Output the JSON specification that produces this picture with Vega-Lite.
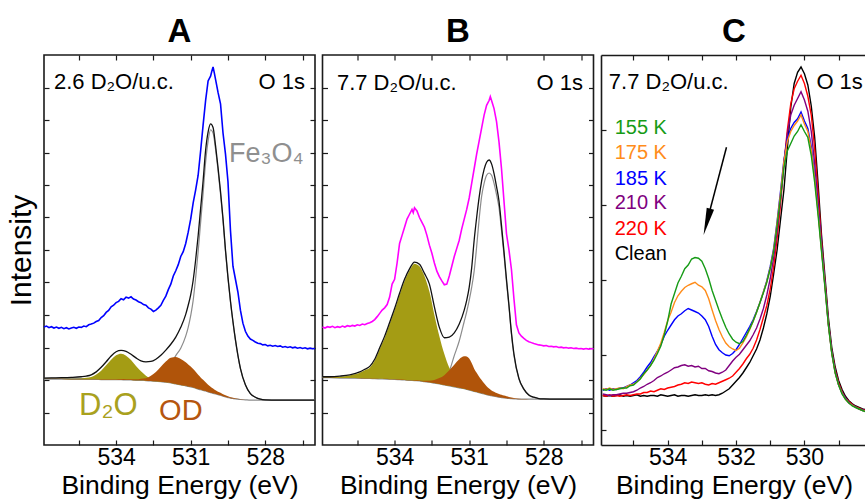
{
"$schema": "https://vega.github.io/schema/vega-lite/v6.json",
"background": "white",
"padding": {"left": 5, "top": 15, "right": 0, "bottom": 0},
"config": {
  "font": "Liberation Sans",
  "view": {"stroke": "#1a1a1a", "strokeWidth": 1.6},
  "axis": {"domain": false, "grid": false, "tickSize": -5, "tickColor": "#1a1a1a", "tickWidth": 1.2, "labelFontSize": 23, "labelColor": "#000000", "labelFont": "Liberation Sans", "titleFont": "Liberation Sans", "titleFontWeight": "normal", "titleColor": "#000000", "labelOverlap": false, "labelFlush": false},
  "title": {"font": "Liberation Sans", "fontSize": 33, "fontWeight": "bold", "color": "#000000", "baseline": "alphabetic", "anchor": "middle"},
  "text": {"font": "Liberation Sans"}
},
"datasets": {
  "A": [
    {"e":536.9,"bg":2.03,"d2o":2.035,"od":2.034,"fe":2.05,"fit":2.06},
    {"e":536.6,"bg":2.03,"d2o":2.036,"od":2.035,"fe":2.05,"fit":2.065},
    {"e":536.2,"bg":2.03,"d2o":2.038,"od":2.036,"fe":2.05,"fit":2.07},
    {"e":535.8,"bg":2.02,"d2o":2.035,"od":2.027,"fe":2.045,"fit":2.08},
    {"e":535.4,"bg":2.02,"d2o":2.05,"od":2.028,"fe":2.045,"fit":2.1},
    {"e":535.2,"bg":2.02,"d2o":2.07,"od":2.029,"fe":2.045,"fit":2.12},
    {"e":535.0,"bg":2.02,"d2o":2.094,"od":2.03,"fe":2.04,"fit":2.16},
    {"e":534.8,"bg":2.02,"d2o":2.173,"od":2.03,"fe":2.04,"fit":2.25},
    {"e":534.6,"bg":2.01,"d2o":2.288,"od":2.021,"fe":2.035,"fit":2.39},
    {"e":534.4,"bg":2.01,"d2o":2.452,"od":2.022,"fe":2.035,"fit":2.56},
    {"e":534.2,"bg":2.01,"d2o":2.624,"od":2.023,"fe":2.035,"fit":2.74},
    {"e":534.0,"bg":2.01,"d2o":2.759,"od":2.025,"fe":2.035,"fit":2.87},
    {"e":533.8,"bg":2.01,"d2o":2.81,"od":2.027,"fe":2.035,"fit":2.91},
    {"e":533.6,"bg":2.0,"d2o":2.749,"od":2.02,"fe":2.03,"fit":2.88},
    {"e":533.4,"bg":2.0,"d2o":2.614,"od":2.025,"fe":2.03,"fit":2.79},
    {"e":533.2,"bg":1.99,"d2o":2.432,"od":2.02,"fe":2.025,"fit":2.68},
    {"e":533.0,"bg":1.99,"d2o":2.268,"od":2.04,"fe":2.025,"fit":2.59},
    {"e":532.8,"bg":1.98,"d2o":2.133,"od":2.057,"fe":2.025,"fit":2.56},
    {"e":532.6,"bg":1.97,"d2o":2.044,"od":2.129,"fe":2.05,"fit":2.57},
    {"e":532.4,"bg":1.96,"d2o":2.01,"od":2.248,"fe":2.1,"fit":2.64},
    {"e":532.2,"bg":1.95,"d2o":1.98,"od":2.408,"fe":2.18,"fit":2.76},
    {"e":532.0,"bg":1.93,"d2o":1.95,"od":2.567,"fe":2.3,"fit":2.92},
    {"e":531.8,"bg":1.91,"d2o":1.925,"od":2.687,"fe":2.5,"fit":3.1},
    {"e":531.6,"bg":1.88,"d2o":1.892,"od":2.71,"fe":2.75,"fit":3.32},
    {"e":531.4,"bg":1.85,"d2o":1.86,"od":2.65,"fe":2.98,"fit":3.62},
    {"e":531.2,"bg":1.82,"d2o":1.828,"od":2.548,"fe":3.35,"fit":4.02},
    {"e":531.1,"bg":1.8,"d2o":1.807,"od":2.48,"fe":3.62,"fit":4.3},
    {"e":531.0,"bg":1.79,"d2o":1.796,"od":2.413,"fe":3.98,"fit":4.62},
    {"e":530.9,"bg":1.77,"d2o":1.775,"od":2.335,"fe":4.45,"fit":5.07},
    {"e":530.8,"bg":1.75,"d2o":1.754,"od":2.253,"fe":5.15,"fit":5.7},
    {"e":530.7,"bg":1.72,"d2o":1.723,"od":2.16,"fe":5.95,"fit":6.44},
    {"e":530.6,"bg":1.7,"d2o":1.702,"od":2.08,"fe":6.85,"fit":7.28},
    {"e":530.5,"bg":1.68,"d2o":1.681,"od":2.005,"fe":7.75,"fit":8.13},
    {"e":530.4,"bg":1.66,"d2o":1.661,"od":1.93,"fe":8.7,"fit":9.07},
    {"e":530.3,"bg":1.63,"d2o":1.63,"od":1.855,"fe":9.35,"fit":9.63},
    {"e":530.2,"bg":1.61,"d2o":1.61,"od":1.79,"fe":9.7,"fit":9.88},
    {"e":530.1,"bg":1.59,"d2o":1.59,"od":1.735,"fe":9.6,"fit":9.77},
    {"e":530.0,"bg":1.57,"d2o":1.57,"od":1.682,"fe":9.1,"fit":9.21},
    {"e":529.9,"bg":1.55,"d2o":1.55,"od":1.638,"fe":8.45,"fit":8.54},
    {"e":529.8,"bg":1.53,"d2o":1.53,"od":1.61,"fe":7.72,"fit":7.8},
    {"e":529.7,"bg":1.5,"d2o":1.5,"od":1.565,"fe":6.9,"fit":6.97},
    {"e":529.6,"bg":1.48,"d2o":1.48,"od":1.53,"fe":5.95,"fit":6.0},
    {"e":529.5,"bg":1.46,"d2o":1.46,"od":1.5,"fe":5.12,"fit":5.16},
    {"e":529.4,"bg":1.44,"d2o":1.44,"od":1.47,"fe":4.4,"fit":4.43},
    {"e":529.3,"bg":1.43,"d2o":1.43,"od":1.452,"fe":3.78,"fit":3.8},
    {"e":529.2,"bg":1.42,"d2o":1.42,"od":1.436,"fe":3.22,"fit":3.24},
    {"e":529.0,"bg":1.4,"d2o":1.4,"od":1.408,"fe":2.35,"fit":2.36},
    {"e":528.8,"bg":1.39,"d2o":1.39,"od":1.393,"fe":1.85,"fit":1.853},
    {"e":528.6,"bg":1.38,"d2o":1.38,"od":1.38,"fe":1.58,"fit":1.58},
    {"e":528.4,"bg":1.38,"d2o":1.38,"od":1.38,"fe":1.47,"fit":1.47},
    {"e":528.2,"bg":1.38,"d2o":1.38,"od":1.38,"fe":1.41,"fit":1.41},
    {"e":528.0,"bg":1.38,"d2o":1.38,"od":1.38,"fe":1.39,"fit":1.39},
    {"e":527.5,"bg":1.38,"d2o":1.38,"od":1.38,"fe":1.38,"fit":1.38},
    {"e":527.0,"bg":1.38,"d2o":1.38,"od":1.38,"fe":1.38,"fit":1.38},
    {"e":526.5,"bg":1.38,"d2o":1.38,"od":1.38,"fe":1.38,"fit":1.38},
    {"e":526.0,"bg":1.38,"d2o":1.38,"od":1.38,"fe":1.38,"fit":1.38}
  ],
  "Aexp": [
    {"e":536.9,"v":3.63},{"e":536.8,"v":3.66},{"e":536.7,"v":3.61},{"e":536.6,"v":3.64},{"e":536.5,"v":3.6},{"e":536.4,"v":3.63},{"e":536.3,"v":3.59},{"e":536.2,"v":3.62},{"e":536.1,"v":3.58},{"e":536.0,"v":3.61},
    {"e":535.9,"v":3.57},{"e":535.8,"v":3.6},{"e":535.7,"v":3.62},{"e":535.6,"v":3.59},{"e":535.5,"v":3.63},{"e":535.4,"v":3.62},{"e":535.3,"v":3.66},{"e":535.2,"v":3.64},{"e":535.1,"v":3.7},{"e":535.0,"v":3.72},
    {"e":534.9,"v":3.75},{"e":534.8,"v":3.8},{"e":534.7,"v":3.83},{"e":534.6,"v":3.92},{"e":534.5,"v":3.98},{"e":534.4,"v":4.08},{"e":534.3,"v":4.14},{"e":534.2,"v":4.25},{"e":534.1,"v":4.3},{"e":534.0,"v":4.38},
    {"e":533.9,"v":4.42},{"e":533.8,"v":4.5},{"e":533.7,"v":4.47},{"e":533.6,"v":4.55},{"e":533.5,"v":4.52},{"e":533.4,"v":4.56},{"e":533.3,"v":4.49},{"e":533.2,"v":4.46},{"e":533.1,"v":4.41},{"e":533.0,"v":4.38},
    {"e":532.9,"v":4.32},{"e":532.8,"v":4.3},{"e":532.7,"v":4.22},{"e":532.6,"v":4.18},{"e":532.5,"v":4.11},{"e":532.4,"v":4.15},{"e":532.3,"v":4.22},{"e":532.2,"v":4.3},{"e":532.1,"v":4.45},{"e":532.0,"v":4.58},
    {"e":531.9,"v":4.78},{"e":531.8,"v":4.95},{"e":531.7,"v":5.2},{"e":531.6,"v":5.36},{"e":531.5,"v":5.55},{"e":531.4,"v":5.8},{"e":531.3,"v":5.95},{"e":531.2,"v":6.2},{"e":531.1,"v":6.55},{"e":531.0,"v":6.95},
    {"e":530.9,"v":7.45},{"e":530.8,"v":7.85},{"e":530.7,"v":8.3},{"e":530.6,"v":9.05},{"e":530.5,"v":9.85},{"e":530.4,"v":10.6},{"e":530.3,"v":11.2},{"e":530.2,"v":11.35},{"e":530.15,"v":11.5},{"e":530.1,"v":11.63},{"e":530.05,"v":11.45},{"e":530.0,"v":11.25},
    {"e":529.9,"v":10.85},{"e":529.8,"v":10.5},{"e":529.7,"v":9.6},{"e":529.6,"v":8.95},{"e":529.5,"v":8.1},{"e":529.4,"v":6.6},{"e":529.3,"v":5.5},{"e":529.2,"v":5.1},{"e":529.1,"v":4.7},{"e":529.0,"v":4.15},
    {"e":528.9,"v":3.75},{"e":528.8,"v":3.5},{"e":528.7,"v":3.35},{"e":528.6,"v":3.26},{"e":528.5,"v":3.22},{"e":528.4,"v":3.17},{"e":528.3,"v":3.13},{"e":528.2,"v":3.12},{"e":528.1,"v":3.08},{"e":528.0,"v":3.09},
    {"e":527.9,"v":3.05},{"e":527.8,"v":3.07},{"e":527.7,"v":3.04},{"e":527.6,"v":3.06},{"e":527.5,"v":3.03},{"e":527.4,"v":3.05},{"e":527.3,"v":3.01},{"e":527.2,"v":3.03},{"e":527.1,"v":3.0},{"e":527.0,"v":3.02},
    {"e":526.9,"v":2.99},{"e":526.8,"v":3.01},{"e":526.7,"v":2.98},{"e":526.6,"v":3.0},{"e":526.5,"v":2.97},{"e":526.4,"v":2.99},{"e":526.3,"v":2.96},{"e":526.2,"v":2.98},{"e":526.1,"v":2.96},{"e":526.0,"v":2.97}
  ],
  "B": [
    {"e":536.9,"bg":2.07,"d2o":2.08,"od":2.075,"fe":2.09,"fit":2.1},
    {"e":536.6,"bg":2.07,"d2o":2.085,"od":2.075,"fe":2.09,"fit":2.1},
    {"e":536.2,"bg":2.06,"d2o":2.1,"od":2.065,"fe":2.08,"fit":2.12},
    {"e":535.8,"bg":2.06,"d2o":2.14,"od":2.065,"fe":2.075,"fit":2.16},
    {"e":535.4,"bg":2.055,"d2o":2.22,"od":2.06,"fe":2.07,"fit":2.25},
    {"e":535.2,"bg":2.05,"d2o":2.3,"od":2.055,"fe":2.065,"fit":2.33},
    {"e":535.0,"bg":2.05,"d2o":2.38,"od":2.055,"fe":2.065,"fit":2.42},
    {"e":534.8,"bg":2.04,"d2o":2.6,"od":2.045,"fe":2.055,"fit":2.64},
    {"e":534.6,"bg":2.035,"d2o":2.95,"od":2.04,"fe":2.05,"fit":2.99},
    {"e":534.4,"bg":2.03,"d2o":3.3,"od":2.035,"fe":2.045,"fit":3.35},
    {"e":534.2,"bg":2.025,"d2o":3.72,"od":2.03,"fe":2.04,"fit":3.77},
    {"e":534.0,"bg":2.02,"d2o":4.15,"od":2.03,"fe":2.035,"fit":4.2},
    {"e":533.8,"bg":2.01,"d2o":4.62,"od":2.02,"fe":2.025,"fit":4.67},
    {"e":533.6,"bg":2.0,"d2o":5.05,"od":2.01,"fe":2.015,"fit":5.1},
    {"e":533.4,"bg":1.99,"d2o":5.37,"od":2.0,"fe":2.005,"fit":5.42},
    {"e":533.2,"bg":1.98,"d2o":5.58,"od":1.99,"fe":1.995,"fit":5.63},
    {"e":533.0,"bg":1.97,"d2o":5.5,"od":1.985,"fe":1.985,"fit":5.56},
    {"e":532.8,"bg":1.95,"d2o":5.2,"od":1.975,"fe":1.97,"fit":5.28},
    {"e":532.6,"bg":1.93,"d2o":4.72,"od":1.975,"fe":1.95,"fit":4.95},
    {"e":532.4,"bg":1.905,"d2o":4.0,"od":2.0,"fe":1.96,"fit":4.25},
    {"e":532.2,"bg":1.88,"d2o":3.35,"od":2.06,"fe":2.0,"fit":3.62},
    {"e":532.0,"bg":1.85,"d2o":2.8,"od":2.15,"fe":2.1,"fit":3.3},
    {"e":531.8,"bg":1.82,"d2o":2.38,"od":2.3,"fe":2.28,"fit":3.32},
    {"e":531.6,"bg":1.79,"d2o":2.12,"od":2.47,"fe":2.75,"fit":3.45},
    {"e":531.4,"bg":1.76,"d2o":1.95,"od":2.64,"fe":3.2,"fit":3.72},
    {"e":531.2,"bg":1.73,"d2o":1.83,"od":2.73,"fe":3.8,"fit":4.15},
    {"e":531.1,"bg":1.71,"d2o":1.78,"od":2.72,"fe":4.1,"fit":4.45},
    {"e":531.0,"bg":1.69,"d2o":1.75,"od":2.66,"fe":4.45,"fit":4.85},
    {"e":530.9,"bg":1.67,"d2o":1.71,"od":2.52,"fe":4.85,"fit":5.45},
    {"e":530.8,"bg":1.65,"d2o":1.68,"od":2.35,"fe":5.35,"fit":6.3},
    {"e":530.7,"bg":1.63,"d2o":1.65,"od":2.22,"fe":6.1,"fit":7.0},
    {"e":530.6,"bg":1.61,"d2o":1.62,"od":2.1,"fe":6.95,"fit":7.62},
    {"e":530.5,"bg":1.59,"d2o":1.6,"od":2.0,"fe":7.65,"fit":8.12},
    {"e":530.4,"bg":1.57,"d2o":1.575,"od":1.9,"fe":8.05,"fit":8.48},
    {"e":530.3,"bg":1.55,"d2o":1.553,"od":1.81,"fe":8.3,"fit":8.7},
    {"e":530.2,"bg":1.53,"d2o":1.532,"od":1.74,"fe":8.37,"fit":8.77},
    {"e":530.1,"bg":1.515,"d2o":1.515,"od":1.68,"fe":8.3,"fit":8.65},
    {"e":530.0,"bg":1.5,"d2o":1.5,"od":1.64,"fe":8.05,"fit":8.35},
    {"e":529.9,"bg":1.485,"d2o":1.485,"od":1.6,"fe":7.7,"fit":7.95},
    {"e":529.8,"bg":1.47,"d2o":1.47,"od":1.57,"fe":7.3,"fit":7.5},
    {"e":529.7,"bg":1.46,"d2o":1.46,"od":1.545,"fe":6.6,"fit":6.75},
    {"e":529.6,"bg":1.45,"d2o":1.45,"od":1.52,"fe":5.85,"fit":5.95},
    {"e":529.5,"bg":1.44,"d2o":1.44,"od":1.5,"fe":5.02,"fit":5.1},
    {"e":529.4,"bg":1.43,"d2o":1.43,"od":1.48,"fe":4.25,"fit":4.3},
    {"e":529.3,"bg":1.425,"d2o":1.425,"od":1.465,"fe":3.4,"fit":3.45},
    {"e":529.2,"bg":1.42,"d2o":1.42,"od":1.45,"fe":2.76,"fit":2.8},
    {"e":529.0,"bg":1.41,"d2o":1.41,"od":1.425,"fe":2.03,"fit":2.05},
    {"e":528.8,"bg":1.41,"d2o":1.41,"od":1.415,"fe":1.71,"fit":1.72},
    {"e":528.6,"bg":1.41,"d2o":1.41,"od":1.41,"fe":1.53,"fit":1.54},
    {"e":528.4,"bg":1.41,"d2o":1.41,"od":1.41,"fe":1.46,"fit":1.47},
    {"e":528.2,"bg":1.41,"d2o":1.41,"od":1.41,"fe":1.43,"fit":1.43},
    {"e":528.0,"bg":1.41,"d2o":1.41,"od":1.41,"fe":1.42,"fit":1.42},
    {"e":527.5,"bg":1.41,"d2o":1.41,"od":1.41,"fe":1.41,"fit":1.41},
    {"e":527.0,"bg":1.41,"d2o":1.41,"od":1.41,"fe":1.41,"fit":1.41},
    {"e":526.5,"bg":1.41,"d2o":1.41,"od":1.41,"fe":1.41,"fit":1.41},
    {"e":526.0,"bg":1.41,"d2o":1.41,"od":1.41,"fe":1.41,"fit":1.41}
  ],
  "Bexp": [
    {"e":536.9,"v":3.63},{"e":536.8,"v":3.6},{"e":536.7,"v":3.64},{"e":536.6,"v":3.62},{"e":536.5,"v":3.65},{"e":536.4,"v":3.61},{"e":536.3,"v":3.64},{"e":536.2,"v":3.62},{"e":536.1,"v":3.66},{"e":536.0,"v":3.63},
    {"e":535.9,"v":3.67},{"e":535.8,"v":3.65},{"e":535.7,"v":3.68},{"e":535.6,"v":3.66},{"e":535.5,"v":3.7},{"e":535.4,"v":3.68},{"e":535.3,"v":3.72},{"e":535.2,"v":3.7},{"e":535.1,"v":3.74},{"e":535.0,"v":3.76},
    {"e":534.9,"v":3.8},{"e":534.8,"v":3.86},{"e":534.7,"v":3.95},{"e":534.6,"v":4.05},{"e":534.5,"v":4.15},{"e":534.4,"v":4.22},{"e":534.3,"v":4.32},{"e":534.2,"v":4.55},{"e":534.1,"v":4.95},{"e":534.0,"v":5.1},
    {"e":533.9,"v":5.6},{"e":533.8,"v":6.2},{"e":533.7,"v":6.45},{"e":533.6,"v":6.7},{"e":533.5,"v":6.95},{"e":533.4,"v":7.1},{"e":533.3,"v":7.25},{"e":533.25,"v":7.15},{"e":533.2,"v":7.3},{"e":533.1,"v":7.2},{"e":533.0,"v":7.0},
    {"e":532.9,"v":6.85},{"e":532.8,"v":6.7},{"e":532.7,"v":6.45},{"e":532.6,"v":6.15},{"e":532.5,"v":5.9},{"e":532.4,"v":5.6},{"e":532.3,"v":5.35},{"e":532.2,"v":5.18},{"e":532.1,"v":5.05},{"e":532.0,"v":4.93},
    {"e":531.9,"v":4.95},{"e":531.8,"v":5.2},{"e":531.7,"v":5.5},{"e":531.6,"v":5.8},{"e":531.5,"v":6.05},{"e":531.4,"v":6.3},{"e":531.3,"v":6.65},{"e":531.2,"v":6.95},{"e":531.1,"v":7.25},{"e":531.0,"v":7.6},
    {"e":530.9,"v":8.05},{"e":530.8,"v":8.5},{"e":530.7,"v":8.95},{"e":530.6,"v":9.35},{"e":530.5,"v":9.75},{"e":530.4,"v":10.15},{"e":530.3,"v":10.45},{"e":530.2,"v":10.6},{"e":530.15,"v":10.72},{"e":530.1,"v":10.6},{"e":530.0,"v":10.35},
    {"e":529.9,"v":9.95},{"e":529.8,"v":9.32},{"e":529.7,"v":8.5},{"e":529.6,"v":7.5},{"e":529.5,"v":6.5},{"e":529.4,"v":6.0},{"e":529.3,"v":5.4},{"e":529.2,"v":4.5},{"e":529.1,"v":3.7},{"e":529.0,"v":3.45},
    {"e":528.9,"v":3.35},{"e":528.8,"v":3.28},{"e":528.7,"v":3.22},{"e":528.6,"v":3.18},{"e":528.5,"v":3.15},{"e":528.4,"v":3.12},{"e":528.3,"v":3.1},{"e":528.2,"v":3.08},{"e":528.1,"v":3.07},{"e":528.0,"v":3.05},
    {"e":527.9,"v":3.06},{"e":527.8,"v":3.03},{"e":527.7,"v":3.04},{"e":527.6,"v":3.02},{"e":527.5,"v":3.03},{"e":527.4,"v":3.0},{"e":527.3,"v":3.01},{"e":527.2,"v":2.99},{"e":527.1,"v":3.0},{"e":527.0,"v":2.98},
    {"e":526.9,"v":2.99},{"e":526.8,"v":2.97},{"e":526.7,"v":2.98},{"e":526.6,"v":2.96},{"e":526.5,"v":2.97},{"e":526.4,"v":2.95},{"e":526.3,"v":2.97},{"e":526.2,"v":2.95},{"e":526.1,"v":2.96},{"e":526.0,"v":2.96}
  ],
  "C": [
    {"e":535.9,"g":0.54,"o":0.55,"b":0.53,"p":0.48,"r":0.46,"k":0.46},
    {"e":535.8,"g":0.53,"o":0.54,"b":0.55,"p":0.47,"r":0.45,"k":0.45},
    {"e":535.7,"g":0.55,"o":0.56,"b":0.53,"p":0.46,"r":0.47,"k":0.46},
    {"e":535.6,"g":0.53,"o":0.54,"b":0.55,"p":0.47,"r":0.45,"k":0.45},
    {"e":535.5,"g":0.54,"o":0.55,"b":0.54,"p":0.47,"r":0.46,"k":0.46},
    {"e":535.4,"g":0.55,"o":0.56,"b":0.56,"p":0.48,"r":0.45,"k":0.47},
    {"e":535.3,"g":0.56,"o":0.55,"b":0.56,"p":0.49,"r":0.46,"k":0.45},
    {"e":535.2,"g":0.56,"o":0.58,"b":0.58,"p":0.49,"r":0.47,"k":0.46},
    {"e":535.1,"g":0.59,"o":0.6,"b":0.6,"p":0.5,"r":0.46,"k":0.45},
    {"e":535.0,"g":0.6,"o":0.61,"b":0.63,"p":0.51,"r":0.47,"k":0.46},
    {"e":534.9,"g":0.64,"o":0.64,"b":0.66,"p":0.53,"r":0.48,"k":0.47},
    {"e":534.8,"g":0.68,"o":0.69,"b":0.71,"p":0.56,"r":0.48,"k":0.45},
    {"e":534.7,"g":0.75,"o":0.74,"b":0.77,"p":0.58,"r":0.5,"k":0.46},
    {"e":534.6,"g":0.8,"o":0.8,"b":0.84,"p":0.61,"r":0.5,"k":0.45},
    {"e":534.5,"g":0.86,"o":0.86,"b":0.9,"p":0.63,"r":0.52,"k":0.46},
    {"e":534.4,"g":0.93,"o":0.95,"b":0.98,"p":0.66,"r":0.51,"k":0.46},
    {"e":534.3,"g":1.02,"o":1.05,"b":1.05,"p":0.7,"r":0.53,"k":0.45},
    {"e":534.2,"g":1.12,"o":1.16,"b":1.14,"p":0.72,"r":0.55,"k":0.47},
    {"e":534.1,"g":1.27,"o":1.3,"b":1.25,"p":0.75,"r":0.54,"k":0.46},
    {"e":534.0,"g":1.45,"o":1.46,"b":1.33,"p":0.77,"r":0.56,"k":0.45},
    {"e":533.9,"g":1.68,"o":1.57,"b":1.4,"p":0.8,"r":0.57,"k":0.46},
    {"e":533.8,"g":1.82,"o":1.7,"b":1.47,"p":0.83,"r":0.58,"k":0.47},
    {"e":533.7,"g":1.96,"o":1.79,"b":1.52,"p":0.84,"r":0.6,"k":0.45},
    {"e":533.6,"g":2.05,"o":1.85,"b":1.55,"p":0.86,"r":0.61,"k":0.46},
    {"e":533.5,"g":2.15,"o":1.9,"b":1.59,"p":0.87,"r":0.63,"k":0.46},
    {"e":533.4,"g":2.2,"o":1.93,"b":1.62,"p":0.85,"r":0.62,"k":0.45},
    {"e":533.3,"g":2.28,"o":1.95,"b":1.6,"p":0.86,"r":0.64,"k":0.46},
    {"e":533.2,"g":2.3,"o":1.97,"b":1.58,"p":0.84,"r":0.63,"k":0.47},
    {"e":533.1,"g":2.29,"o":1.93,"b":1.56,"p":0.85,"r":0.62,"k":0.46},
    {"e":533.0,"g":2.25,"o":1.91,"b":1.52,"p":0.82,"r":0.63,"k":0.46},
    {"e":532.9,"g":2.15,"o":1.86,"b":1.47,"p":0.82,"r":0.61,"k":0.47},
    {"e":532.8,"g":2.02,"o":1.75,"b":1.38,"p":0.79,"r":0.6,"k":0.46},
    {"e":532.7,"g":1.86,"o":1.6,"b":1.25,"p":0.78,"r":0.62,"k":0.47},
    {"e":532.6,"g":1.73,"o":1.46,"b":1.14,"p":0.76,"r":0.61,"k":0.46},
    {"e":532.5,"g":1.6,"o":1.34,"b":1.07,"p":0.75,"r":0.63,"k":0.47},
    {"e":532.4,"g":1.48,"o":1.24,"b":1.03,"p":0.77,"r":0.65,"k":0.49},
    {"e":532.3,"g":1.37,"o":1.16,"b":1.0,"p":0.8,"r":0.67,"k":0.52},
    {"e":532.2,"g":1.28,"o":1.11,"b":0.99,"p":0.86,"r":0.69,"k":0.55},
    {"e":532.1,"g":1.21,"o":1.08,"b":1.02,"p":0.92,"r":0.72,"k":0.6},
    {"e":532.0,"g":1.17,"o":1.06,"b":1.07,"p":0.97,"r":0.77,"k":0.65},
    {"e":531.9,"g":1.15,"o":1.09,"b":1.14,"p":1.01,"r":0.82,"k":0.7},
    {"e":531.8,"g":1.18,"o":1.16,"b":1.22,"p":1.07,"r":0.88,"k":0.76},
    {"e":531.7,"g":1.26,"o":1.24,"b":1.3,"p":1.13,"r":0.95,"k":0.83},
    {"e":531.6,"g":1.35,"o":1.34,"b":1.38,"p":1.19,"r":1.01,"k":0.9},
    {"e":531.5,"g":1.45,"o":1.45,"b":1.47,"p":1.27,"r":1.09,"k":0.99},
    {"e":531.4,"g":1.57,"o":1.57,"b":1.58,"p":1.36,"r":1.2,"k":1.08},
    {"e":531.3,"g":1.7,"o":1.7,"b":1.7,"p":1.48,"r":1.34,"k":1.2},
    {"e":531.2,"g":1.83,"o":1.84,"b":1.84,"p":1.62,"r":1.5,"k":1.36},
    {"e":531.1,"g":1.97,"o":1.98,"b":1.99,"p":1.8,"r":1.66,"k":1.55},
    {"e":531.0,"g":2.15,"o":2.16,"b":2.18,"p":2.02,"r":1.88,"k":1.78},
    {"e":530.9,"g":2.38,"o":2.4,"b":2.42,"p":2.3,"r":2.18,"k":2.08},
    {"e":530.8,"g":2.72,"o":2.76,"b":2.78,"p":2.65,"r":2.55,"k":2.4},
    {"e":530.7,"g":3.1,"o":3.15,"b":3.18,"p":3.08,"r":3.0,"k":2.8},
    {"e":530.6,"g":3.5,"o":3.58,"b":3.6,"p":3.55,"r":3.55,"k":3.2},
    {"e":530.5,"g":3.72,"o":3.85,"b":3.88,"p":3.95,"r":4.0,"k":3.75},
    {"e":530.4,"g":3.82,"o":3.98,"b":4.02,"p":4.2,"r":4.35,"k":4.3},
    {"e":530.3,"g":3.92,"o":4.06,"b":4.1,"p":4.33,"r":4.55,"k":4.62},
    {"e":530.2,"g":3.98,"o":4.12,"b":4.15,"p":4.42,"r":4.65,"k":4.77},
    {"e":530.1,"g":4.07,"o":4.2,"b":4.24,"p":4.51,"r":4.73,"k":4.84},
    {"e":530.0,"g":3.98,"o":4.08,"b":4.12,"p":4.4,"r":4.62,"k":4.75},
    {"e":529.9,"g":3.9,"o":3.98,"b":4.02,"p":4.25,"r":4.45,"k":4.6},
    {"e":529.8,"g":3.66,"o":3.74,"b":3.78,"p":3.98,"r":4.2,"k":4.32},
    {"e":529.7,"g":3.3,"o":3.36,"b":3.4,"p":3.55,"r":3.75,"k":3.9},
    {"e":529.6,"g":2.86,"o":2.9,"b":2.93,"p":3.02,"r":3.15,"k":3.28},
    {"e":529.5,"g":2.38,"o":2.4,"b":2.42,"p":2.48,"r":2.52,"k":2.6},
    {"e":529.4,"g":1.9,"o":1.92,"b":1.93,"p":1.96,"r":1.98,"k":2.05},
    {"e":529.3,"g":1.4,"o":1.4,"b":1.41,"p":1.42,"r":1.44,"k":1.5},
    {"e":529.2,"g":1.02,"o":1.02,"b":1.03,"p":1.04,"r":1.05,"k":1.1},
    {"e":529.1,"g":0.76,"o":0.76,"b":0.77,"p":0.78,"r":0.8,"k":0.84},
    {"e":529.0,"g":0.6,"o":0.6,"b":0.6,"p":0.61,"r":0.63,"k":0.66},
    {"e":528.9,"g":0.48,"o":0.49,"b":0.49,"p":0.5,"r":0.51,"k":0.54},
    {"e":528.8,"g":0.41,"o":0.41,"b":0.42,"p":0.42,"r":0.43,"k":0.45},
    {"e":528.7,"g":0.36,"o":0.36,"b":0.36,"p":0.37,"r":0.38,"k":0.39},
    {"e":528.6,"g":0.32,"o":0.33,"b":0.33,"p":0.33,"r":0.34,"k":0.35},
    {"e":528.5,"g":0.3,"o":0.3,"b":0.3,"p":0.31,"r":0.31,"k":0.32},
    {"e":528.4,"g":0.28,"o":0.28,"b":0.28,"p":0.28,"r":0.29,"k":0.3},
    {"e":528.3,"g":0.26,"o":0.26,"b":0.26,"p":0.27,"r":0.27,"k":0.28},
    {"e":528.2,"g":0.24,"o":0.25,"b":0.25,"p":0.25,"r":0.26,"k":0.27}
  ]
},
"spacing": 7.5,
"bounds": "flush",
"hconcat": [
  {
    "width": 271, "height": 390,
    "title": {"text": "A", "offset": 5},
    "layer": [
      {"data": {"name": "A"}, "mark": {"type": "line", "color": "#8c8c8c", "strokeWidth": 1.2, "interpolate": "monotone"},
       "encoding": {
         "x": {"field": "e", "type": "quantitative", "scale": {"domain": [526, 536.9], "reverse": true, "nice": false, "zero": false},
               "axis": {"values": [526.5, 528, 529.5, 531, 532.5, 534, 535.5], "labelExpr": "datum.value % 3 == 0 ? format(datum.value, 'd') : ''", "labelFontSize": 23, "title": "Binding Energy (eV)", "titleFontSize": 26.5, "labelPadding": 6, "titlePadding": 3}},
         "y": {"field": "bg", "type": "quantitative", "scale": {"domain": [0, 12], "nice": false, "zero": false},
               "axis": {"values": [1,2,3,4,5,6,7,8,9,10,11], "labels": false, "title": "Intensity", "titleFontSize": 30, "titlePadding": 7}}}},
      {"data": {"name": "A"}, "mark": {"type": "line", "color": "#8c8c8c", "strokeWidth": 1.2, "interpolate": "monotone"},
       "encoding": {"x": {"field": "e", "type": "quantitative", "axis": null}, "y": {"field": "fe", "type": "quantitative", "axis": null}}},
      {"data": {"name": "A"}, "mark": {"type": "area", "color": "#a49c14", "opacity": 1, "interpolate": "monotone"},
       "encoding": {"x": {"field": "e", "type": "quantitative", "axis": null}, "y": {"field": "bg", "type": "quantitative", "axis": null}, "y2": {"field": "d2o"}}},
      {"data": {"name": "A"}, "mark": {"type": "area", "color": "#b0540a", "opacity": 1, "interpolate": "monotone"},
       "encoding": {"x": {"field": "e", "type": "quantitative", "axis": null}, "y": {"field": "bg", "type": "quantitative", "axis": null}, "y2": {"field": "od"}}},
      {"data": {"name": "A"}, "mark": {"type": "line", "color": "#111111", "strokeWidth": 1.3, "interpolate": "monotone"},
       "encoding": {"x": {"field": "e", "type": "quantitative", "axis": null}, "y": {"field": "fit", "type": "quantitative", "axis": null}}},
      {"data": {"name": "Aexp"}, "mark": {"type": "line", "color": "#0000ff", "strokeWidth": 1.6},
       "encoding": {"x": {"field": "e", "type": "quantitative", "axis": null}, "y": {"field": "v", "type": "quantitative", "axis": null}}},
      {"data": {"values": [{"e": 536.5, "y": 10.95, "t": "2.6 D₂O/u.c."}]}, "mark": {"type": "text", "align": "left", "baseline": "alphabetic", "fontSize": 22, "color": "#000000"},
       "encoding": {"x": {"field": "e", "type": "quantitative", "axis": null}, "y": {"field": "y", "type": "quantitative", "axis": null}, "text": {"field": "t"}}},
      {"data": {"values": [{"e": 529.46, "y": 8.71, "t": "Fe₃O₄"}]}, "mark": {"type": "text", "align": "left", "baseline": "alphabetic", "fontSize": 27, "color": "#8f8f8f"},
       "encoding": {"x": {"field": "e", "type": "quantitative", "axis": null}, "y": {"field": "y", "type": "quantitative", "axis": null}, "text": {"field": "t"}}},
      {"data": {"values": [{"e": 535.49, "y": 0.92, "t": "D₂O"}]}, "mark": {"type": "text", "align": "left", "baseline": "alphabetic", "fontSize": 31, "color": "#a9a11e"},
       "encoding": {"x": {"field": "e", "type": "quantitative", "axis": null}, "y": {"field": "y", "type": "quantitative", "axis": null}, "text": {"field": "t"}}},
      {"data": {"values": [{"e": 532.27, "y": 0.77, "t": "OD"}]}, "mark": {"type": "text", "align": "left", "baseline": "alphabetic", "fontSize": 29, "color": "#b5560f"},
       "encoding": {"x": {"field": "e", "type": "quantitative", "axis": null}, "y": {"field": "y", "type": "quantitative", "axis": null}, "text": {"field": "t"}}},
      {"data": {"values": [{"e": 526.4, "y": 10.95, "t": "O 1s"}]}, "mark": {"type": "text", "align": "right", "baseline": "alphabetic", "fontSize": 22, "color": "#000000"},
       "encoding": {
         "x": {"field": "e", "type": "quantitative", "scale": {"domain": [526, 536.9], "reverse": true, "nice": false, "zero": false},
               "axis": {"orient": "top", "values": [526.5, 528, 529.5, 531, 532.5, 534, 535.5], "labels": false, "title": null}},
         "y": {"field": "y", "type": "quantitative", "scale": {"domain": [0, 12], "nice": false, "zero": false},
               "axis": {"orient": "right", "values": [1,2,3,4,5,6,7,8,9,10,11], "labels": false, "title": null}},
         "text": {"field": "t"}}}
    ],
    "resolve": {"axis": {"x": "independent", "y": "independent"}}
  },
  {
    "width": 271, "height": 390,
    "title": {"text": "B", "offset": 5},
    "layer": [
      {"data": {"name": "B"}, "mark": {"type": "line", "color": "#8c8c8c", "strokeWidth": 1.2, "interpolate": "monotone"},
       "encoding": {
         "x": {"field": "e", "type": "quantitative", "scale": {"domain": [526, 536.9], "reverse": true, "nice": false, "zero": false},
               "axis": {"values": [526.5, 528, 529.5, 531, 532.5, 534, 535.5], "labelExpr": "datum.value % 3 == 0 ? format(datum.value, 'd') : ''", "labelFontSize": 23, "title": "Binding Energy (eV)", "titleFontSize": 26.5, "labelPadding": 6, "titlePadding": 3}},
         "y": {"field": "bg", "type": "quantitative", "scale": {"domain": [0, 12], "nice": false, "zero": false},
               "axis": {"values": [1,2,3,4,5,6,7,8,9,10,11], "labels": false, "title": null}}}},
      {"data": {"name": "B"}, "mark": {"type": "line", "color": "#8c8c8c", "strokeWidth": 1.2, "interpolate": "monotone"},
       "encoding": {"x": {"field": "e", "type": "quantitative", "axis": null}, "y": {"field": "fe", "type": "quantitative", "axis": null}}},
      {"data": {"name": "B"}, "mark": {"type": "area", "color": "#a49c14", "opacity": 1, "interpolate": "monotone"},
       "encoding": {"x": {"field": "e", "type": "quantitative", "axis": null}, "y": {"field": "bg", "type": "quantitative", "axis": null}, "y2": {"field": "d2o"}}},
      {"data": {"name": "B"}, "mark": {"type": "area", "color": "#b0540a", "opacity": 1, "interpolate": "monotone"},
       "encoding": {"x": {"field": "e", "type": "quantitative", "axis": null}, "y": {"field": "bg", "type": "quantitative", "axis": null}, "y2": {"field": "od"}}},
      {"data": {"name": "B"}, "mark": {"type": "line", "color": "#111111", "strokeWidth": 1.3, "interpolate": "monotone"},
       "encoding": {"x": {"field": "e", "type": "quantitative", "axis": null}, "y": {"field": "fit", "type": "quantitative", "axis": null}}},
      {"data": {"name": "Bexp"}, "mark": {"type": "line", "color": "#ff00ff", "strokeWidth": 1.6},
       "encoding": {"x": {"field": "e", "type": "quantitative", "axis": null}, "y": {"field": "v", "type": "quantitative", "axis": null}}},
      {"data": {"values": [{"e": 536.32, "y": 10.92, "t": "7.7 D₂O/u.c."}]}, "mark": {"type": "text", "align": "left", "baseline": "alphabetic", "fontSize": 22, "color": "#000000"},
       "encoding": {"x": {"field": "e", "type": "quantitative", "axis": null}, "y": {"field": "y", "type": "quantitative", "axis": null}, "text": {"field": "t"}}},
      {"data": {"values": [{"e": 526.42, "y": 10.92, "t": "O 1s"}]}, "mark": {"type": "text", "align": "right", "baseline": "alphabetic", "fontSize": 22, "color": "#000000"},
       "encoding": {
         "x": {"field": "e", "type": "quantitative", "scale": {"domain": [526, 536.9], "reverse": true, "nice": false, "zero": false},
               "axis": {"orient": "top", "values": [526.5, 528, 529.5, 531, 532.5, 534, 535.5], "labels": false, "title": null}},
         "y": {"field": "y", "type": "quantitative", "scale": {"domain": [0, 12], "nice": false, "zero": false},
               "axis": {"orient": "right", "values": [1,2,3,4,5,6,7,8,9,10,11], "labels": false, "title": null}},
         "text": {"field": "t"}}}
    ],
    "resolve": {"axis": {"x": "independent", "y": "independent"}}
  },
  {
    "width": 266, "height": 390,
    "title": {"text": "C", "offset": 5},
    "view": {"stroke": null},
    "layer": [
      {"data": {"name": "C"}, "mark": {"type": "line", "color": "#000000", "strokeWidth": 1.4},
       "encoding": {
         "x": {"field": "e", "type": "quantitative", "scale": {"domain": [528.17, 535.95], "reverse": true, "nice": false, "zero": false},
               "axis": {"values": [529, 530, 531, 532, 533, 534, 535], "labelExpr": "datum.value % 2 == 0 ? format(datum.value, 'd') : ''", "labelFontSize": 23, "title": "Binding Energy (eV)", "titleFontSize": 26.5, "labelPadding": 6, "titlePadding": 3, "domain": true, "domainColor": "#1a1a1a", "domainWidth": 1.6}},
         "y": {"field": "k", "type": "quantitative", "scale": {"domain": [-0.2, 5.0], "nice": false, "zero": false},
               "axis": {"values": [0, 1, 2, 3, 4], "labels": false, "title": null, "domain": true, "domainColor": "#1a1a1a", "domainWidth": 1.6}}}},
      {"data": {"name": "C"}, "mark": {"type": "line", "color": "#ff0000", "strokeWidth": 1.4},
       "encoding": {"x": {"field": "e", "type": "quantitative", "axis": null}, "y": {"field": "r", "type": "quantitative", "axis": null}}},
      {"data": {"name": "C"}, "mark": {"type": "line", "color": "#800080", "strokeWidth": 1.4},
       "encoding": {"x": {"field": "e", "type": "quantitative", "axis": null}, "y": {"field": "p", "type": "quantitative", "axis": null}}},
      {"data": {"name": "C"}, "mark": {"type": "line", "color": "#0000ff", "strokeWidth": 1.4},
       "encoding": {"x": {"field": "e", "type": "quantitative", "axis": null}, "y": {"field": "b", "type": "quantitative", "axis": null}}},
      {"data": {"name": "C"}, "mark": {"type": "line", "color": "#ff8c1a", "strokeWidth": 1.4},
       "encoding": {"x": {"field": "e", "type": "quantitative", "axis": null}, "y": {"field": "o", "type": "quantitative", "axis": null}}},
      {"data": {"name": "C"}, "mark": {"type": "line", "color": "#169b16", "strokeWidth": 1.4},
       "encoding": {"x": {"field": "e", "type": "quantitative", "axis": null}, "y": {"field": "g", "type": "quantitative", "axis": null}}},
      {"data": {"values": [
         {"e": 535.55, "y": 3.95, "t": "155 K"},
         {"e": 535.55, "y": 3.61, "t": "175 K"},
         {"e": 535.55, "y": 3.27, "t": "185 K"},
         {"e": 535.55, "y": 2.95, "t": "210 K"},
         {"e": 535.55, "y": 2.6, "t": "220 K"},
         {"e": 535.55, "y": 2.27, "t": "Clean"}]},
       "mark": {"type": "text", "align": "left", "baseline": "alphabetic", "fontSize": 20},
       "encoding": {"x": {"field": "e", "type": "quantitative", "axis": null}, "y": {"field": "y", "type": "quantitative", "axis": null}, "text": {"field": "t"},
         "color": {"field": "t", "type": "nominal", "legend": null, "scale": {"domain": ["155 K", "175 K", "185 K", "210 K", "220 K", "Clean"], "range": ["#169b16", "#ff8c1a", "#0000ff", "#800080", "#ff0000", "#000000"]}}}},
      {"data": {"values": [{"e": 535.72, "y": 4.547, "t": "7.7 D₂O/u.c."}]}, "mark": {"type": "text", "align": "left", "baseline": "alphabetic", "fontSize": 22, "color": "#000000"},
       "encoding": {"x": {"field": "e", "type": "quantitative", "axis": null}, "y": {"field": "y", "type": "quantitative", "axis": null}, "text": {"field": "t"}}},
      {"data": {"values": [{"e": 532.28, "y": 3.77, "e2": 532.85, "y2": 2.78}]}, "mark": {"type": "rule", "color": "#000000", "strokeWidth": 1.5},
       "encoding": {"x": {"field": "e", "type": "quantitative", "axis": null}, "y": {"field": "y", "type": "quantitative", "axis": null}, "x2": {"field": "e2"}, "y2": {"field": "y2"}}},
      {"data": {"values": [{"e": 532.85, "y": 2.775}]}, "mark": {"type": "point", "shape": "M0,1L-0.28,-1L0.28,-1Z", "size": 729, "angle": 14.6, "filled": true, "color": "#000000", "opacity": 1},
       "encoding": {"x": {"field": "e", "type": "quantitative", "axis": null}, "y": {"field": "y", "type": "quantitative", "axis": null}}},
      {"data": {"values": [{"e": 529.65, "y": 4.547, "t": "O 1s"}]}, "mark": {"type": "text", "align": "left", "baseline": "alphabetic", "fontSize": 22, "color": "#000000"},
       "encoding": {
         "x": {"field": "e", "type": "quantitative", "scale": {"domain": [528.17, 535.95], "reverse": true, "nice": false, "zero": false},
               "axis": {"orient": "top", "values": [529, 530, 531, 532, 533, 534, 535], "labels": false, "title": null, "domain": true, "domainColor": "#1a1a1a", "domainWidth": 1.6}},
         "y": {"field": "y", "type": "quantitative", "axis": null},
         "text": {"field": "t"}}}
    ],
    "resolve": {"axis": {"x": "independent", "y": "independent"}}
  }
]
}
